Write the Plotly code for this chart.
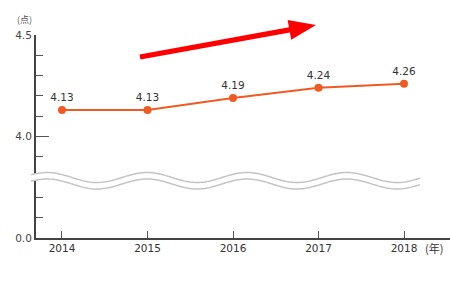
import numpy as np
import plotly.graph_objects as go

# ---- data ----
years = [2014, 2015, 2016, 2017, 2018]
scores = [4.13, 4.13, 4.19, 4.24, 4.26]
score_labels = ["4.13", "4.13", "4.19", "4.24", "4.26"]
y_tick_vals = [3.5, 4.0, 4.5]          # 3.5 stands for the broken-axis 0.0
y_tick_text = ["0.0", "4.0", "4.5"]
x_tick_text = ["2014", "2015", "2016", "2017", "2018"]

W, H = 450, 293
ML, MR, MT, MB = 36, 0, 35, 55
PW, PH = W - ML - MR, H - MT - MB

def px(x):
    return (x - ML) / PW

def py(y):
    return (H - MB - y) / PH

FONT = "DejaVu Sans, Noto Sans, sans-serif"
CJK = "Noto Sans CJK JP, sans-serif"
ORANGE = "#f05a22"

fig = go.Figure()
fig.add_trace(go.Scatter(
    x=years, y=scores, mode="lines+markers+text",
    text=score_labels, textposition="top center",
    textfont=dict(family=FONT, size=10.5, color="#333"),
    line=dict(color=ORANGE, width=2),
    marker=dict(color=ORANGE, size=8),
    cliponaxis=False, hoverinfo="skip",
))

shapes = []
# wave break (decorative)
xs = np.linspace(31, 420, 200)
up = 177.5 - 5 * np.cos(2 * np.pi * (xs - 47) / 100)
lo = up + 6.5
band = "M " + " L ".join(f"{px(a):.5f},{py(b):.5f}" for a, b in zip(xs, up))
band += " L " + " L ".join(f"{px(a):.5f},{py(b):.5f}" for a, b in zip(xs[::-1], lo[::-1])) + " Z"
shapes.append(dict(type="path", path=band, xref="paper", yref="paper",
                   fillcolor="white", line=dict(width=0), layer="above"))
for curve in (up, lo):
    p = "M " + " L ".join(f"{px(a):.5f},{py(b):.5f}" for a, b in zip(xs, curve))
    shapes.append(dict(type="path", path=p, xref="paper", yref="paper",
                       line=dict(color="#c4c4c4", width=1.5), layer="above"))

# red trend arrow (decorative)
start = np.array([140.0, 57.0])
tip = np.array([316.0, 25.0])
d = tip - start
u = d / np.linalg.norm(d)
n = np.array([-u[1], u[0]])
hw, hl, hh = 2.6, 27.0, 10.0
base = tip - hl * u
pts = [start + hw * n, base + hw * n, base + hh * n, tip, base - hh * n, base - hw * n, start - hw * n]
arrow = "M " + " L ".join(f"{px(a):.5f},{py(b):.5f}" for a, b in pts) + " Z"
shapes.append(dict(type="path", path=arrow, xref="paper", yref="paper",
                   fillcolor="#ff0000", line=dict(width=0), layer="above"))

fig.update_layout(
    width=W, height=H,
    margin=dict(l=ML, r=MR, t=MT, b=MB, pad=0),
    paper_bgcolor="white", plot_bgcolor="white",
    showlegend=False,
    shapes=shapes,
    font=dict(family=FONT, size=11, color="#333"),
    xaxis=dict(
        range=[2013.696, 2018.538], tickvals=years, ticktext=x_tick_text,
        ticks="inside", ticklen=7, tickwidth=1, tickcolor="#555",
        showline=True, linecolor="#444", linewidth=1.5,
        showgrid=False, zeroline=False, fixedrange=True,
        tickfont=dict(family=FONT, size=10.5, color="#333"),
    ),
    yaxis=dict(
        range=[3.5, 4.5], tickvals=y_tick_vals, ticktext=y_tick_text,
        ticks="inside", ticklen=13, tickwidth=1, tickcolor="#555",
        minor=dict(dtick=0.1, tick0=3.5, ticks="inside", ticklen=7, tickcolor="#555", tickwidth=1, showgrid=False),
        showline=True, linecolor="#444", linewidth=2,
        showgrid=False, zeroline=False, fixedrange=True,
        tickfont=dict(family=FONT, size=10.5, color="#444"),
    ),
    annotations=[
        dict(text="(点)", xref="paper", yref="paper", x=px(34), y=py(20),
             xanchor="right", yanchor="middle", showarrow=False,
             font=dict(family=CJK, size=9, color="#555")),
        dict(text="(年)", xref="paper", yref="paper", x=px(423), y=py(248),
             xanchor="left", yanchor="middle", showarrow=False,
             font=dict(family=CJK, size=11, color="#333")),
    ],
)

fig.write_html("out.html")
